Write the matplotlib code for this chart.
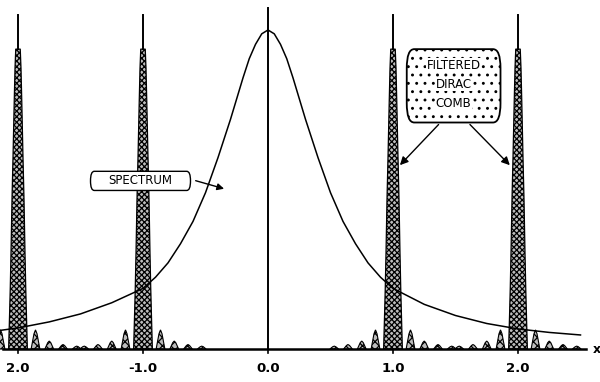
import matplotlib
matplotlib.use("Agg")
import matplotlib.pyplot as plt
from matplotlib.patches import FancyBboxPatch
import numpy as np

# spectrum (x in units, height relative to the peak)
spec_x = [-2.15, -2.0, -1.75, -1.5, -1.25, -1.0, -0.9, -0.8, -0.7, -0.6, -0.5, -0.4, -0.3, -0.2,
          -0.15, -0.1, -0.05, 0.0, 0.05, 0.1, 0.15, 0.2, 0.3, 0.4, 0.5, 0.6, 0.7, 0.8, 0.9,
          1.0, 1.25, 1.5, 1.75, 2.0, 2.25, 2.5]
spec_y = [0.058, 0.066, 0.085, 0.11, 0.145, 0.19, 0.225, 0.27, 0.33, 0.40, 0.49, 0.60, 0.72, 0.85,
          0.91, 0.955, 0.988, 1.0, 0.988, 0.955, 0.91, 0.85, 0.72, 0.60, 0.49, 0.40, 0.33, 0.27, 0.225,
          0.19, 0.14, 0.105, 0.08, 0.063, 0.052, 0.044]

# filtered dirac comb
comb_pos = [-2.0, -1.0, 1.0, 2.0]
spike_levels = [0.0, 0.10, 0.19, 0.30, 0.47, 0.60, 0.78, 0.88, 0.94]
spike_halfwidths = [0.075, 0.068, 0.062, 0.056, 0.048, 0.040, 0.030, 0.024, 0.018]
spike_top = 1.047
lobe_offsets = [0.14, 0.25, 0.36, 0.47]
lobe_heights = [0.06, 0.025, 0.014, 0.009]

tick_pos = [-2.0, -1.0, 0.0, 1.0, 2.0]
tick_labels = ["2.0", "-1.0", "0.0", "1.0", "2.0"]

plt.rcParams["hatch.linewidth"] = 0.9

fig = plt.figure(figsize=(6.0, 3.82), dpi=100)
ax = fig.add_axes([0, 0, 1, 1])
ax.set_xlim(-2.144, 2.656)
ax.set_ylim(-0.1034, 1.094)
ax.axis("off")

# spikes
lv = np.array(spike_levels)
hw = np.array(spike_halfwidths)
for c in comb_pos:
    ax.fill_betweenx(lv, c - hw, c + hw, facecolor="#bcbcbc",
                     edgecolor="black", hatch="xxxxxx", lw=0.9, zorder=3)
    ax.plot([c, c], [lv[-1], spike_top], color="black", lw=1.4, zorder=3)
    for off, h in zip(lobe_offsets, lobe_heights):
        for s in (-1, 1):
            x0 = c + s * off
            ax.fill([x0 - 0.035, x0 - 0.012, x0, x0 + 0.012, x0 + 0.035],
                    [0, h * 0.8, h, h * 0.8, 0], facecolor="#bcbcbc",
                    edgecolor="black", hatch="xxxx", lw=0.8, zorder=3)

# spectrum
ax.plot(spec_x, spec_y, color="black", lw=1.1, zorder=4)

# axes
ax.plot([-2.12, 2.54], [0, 0], color="black", lw=1.8, zorder=5)
ax.plot([0, 0], [0, 1.069], color="black", lw=1.4, zorder=5)
for t, lab in zip(tick_pos, tick_labels):
    ax.plot([t, t], [0, -0.012], color="black", lw=1.2)
    ax.text(t, -0.06, lab, ha="center", va="center", fontsize=9.5, fontweight="bold",
            family="DejaVu Sans")
ax.text(2.60, 0.0, "x", ha="left", va="center", fontsize=9, fontweight="bold")

# SPECTRUM label
box1 = FancyBboxPatch((-1.42, 0.497), 0.80, 0.06, boxstyle="round,pad=0.0,rounding_size=0.03",
                      facecolor="white", edgecolor="black", lw=1.0, zorder=6)
ax.add_patch(box1)
ax.text(-1.02, 0.527, "SPECTRUM", ha="center", va="center", fontsize=8.5, zorder=7)
ax.annotate("", xy=(-0.33, 0.50), xytext=(-0.60, 0.53),
            arrowprops=dict(arrowstyle="-|>", color="black", lw=1.0, mutation_scale=10), zorder=6)

# FILTERED DIRAC COMB label
box2 = FancyBboxPatch((1.11, 0.71), 0.75, 0.23, boxstyle="round,pad=0.0,rounding_size=0.06",
                      facecolor="white", edgecolor="black", lw=1.3, hatch="..", zorder=6)
ax.add_patch(box2)
for txt, yy in zip(["FILTERED", "DIRAC", "COMB"], [0.89, 0.83, 0.77]):
    ax.text(1.485, yy, txt, ha="center", va="center", fontsize=8.5, zorder=7,
            bbox=dict(facecolor="white", edgecolor="none", pad=0.2))
ax.annotate("", xy=(1.04, 0.57), xytext=(1.38, 0.71),
            arrowprops=dict(arrowstyle="-|>", color="black", lw=1.0, mutation_scale=12), zorder=6)
ax.annotate("", xy=(1.95, 0.57), xytext=(1.60, 0.71),
            arrowprops=dict(arrowstyle="-|>", color="black", lw=1.0, mutation_scale=12), zorder=6)

fig.savefig("out.png", dpi=100)
